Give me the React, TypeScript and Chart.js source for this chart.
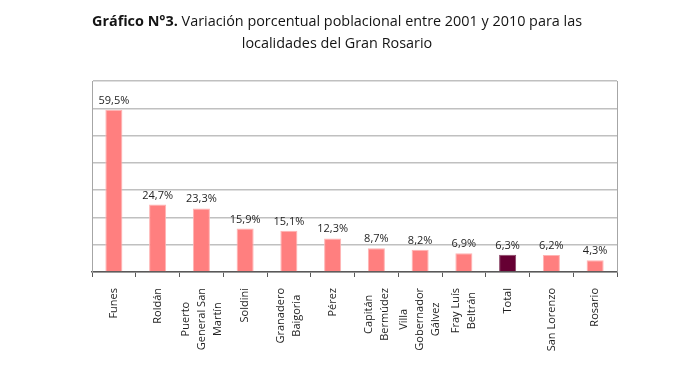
import React, { useEffect, useRef } from 'react';
import { Chart, registerables } from 'chart.js';

Chart.register(...registerables);

const categories: string[][] = [
  ['Funes'],
  ['Roldán'],
  ['Puerto', 'General San', 'Martín'],
  ['Soldini'],
  ['Granadero', 'Baigoria'],
  ['Pérez'],
  ['Capitán', 'Bermúdez'],
  ['Villa', 'Gobernador', 'Gálvez'],
  ['Fray Luís', 'Beltrán'],
  ['Total'],
  ['San Lorenzo'],
  ['Rosario'],
];
const values: number[] = [59.5, 24.7, 23.3, 15.9, 15.1, 12.3, 8.7, 8.2, 6.9, 6.3, 6.2, 4.3];
const highlightCategory = 'Total';
const titleBold = 'Gráfico N°3.';
const titleRest = ' Variación porcentual poblacional entre 2001 y 2010 para las';
const titleLine2 = 'localidades del Gran Rosario';
const yMin = 0;
const yMax = 70;
const yStep = 10;

const FONT = '"Open Sans", "Noto Sans", sans-serif';
const BAR = '#FF7F7F';
const BAR_HI = '#660033';

const fmt = (v: number) => v.toFixed(1).replace('.', ',') + '%';

const overlay = {
  id: 'overlay',
  afterDraw(chart: any) {
    const { ctx, chartArea, scales } = chart;
    const xs = scales.x;
    ctx.save();
    // right frame border
    ctx.strokeStyle = '#a6a6a6';
    ctx.lineWidth = 1;
    ctx.beginPath();
    ctx.moveTo(Math.round(chartArea.right) + 0.5, chartArea.top);
    ctx.lineTo(Math.round(chartArea.right) + 0.5, chartArea.bottom);
    ctx.stroke();

    // value labels
    ctx.font = `11px ${FONT}`;
    ctx.fillStyle = '#1f1f1f';
    ctx.textAlign = 'center';
    ctx.textBaseline = 'alphabetic';
    const meta = chart.getDatasetMeta(0);
    meta.data.forEach((bar: any, i: number) => {
      ctx.fillText(fmt(values[i]), bar.x, bar.y - 6);
    });

    // category labels (rotated, centred lines, block anchored near axis)
    const LH = 16;
    const topY = chartArea.bottom + 16;
    categories.forEach((lines, i) => {
      const cx = xs.getPixelForValue(i);
      const W = Math.max(...lines.map((l) => ctx.measureText(l).width));
      const yc = topY + W / 2;
      const n = lines.length;
      lines.forEach((line, j) => {
        const lx = cx + (j - (n - 1) / 2) * LH;
        ctx.save();
        ctx.translate(lx, yc);
        ctx.rotate(-Math.PI / 2);
        ctx.textAlign = 'center';
        ctx.textBaseline = 'middle';
        ctx.fillText(line, 0, 0);
        ctx.restore();
      });
    });

    // title
    ctx.fillStyle = '#141414';
    ctx.textBaseline = 'alphabetic';
    ctx.textAlign = 'left';
    const boldFont = `bold 14.4px ${FONT}`;
    const normFont = `14.4px ${FONT}`;
    ctx.font = boldFont;
    const wb = ctx.measureText(titleBold).width;
    ctx.font = normFont;
    const wr = ctx.measureText(titleRest).width;
    const w2 = ctx.measureText(titleLine2).width;
    const cw = chart.width / 2;
    const x0 = cw - (wb + wr) / 2;
    ctx.font = boldFont;
    ctx.fillText(titleBold, x0, 26);
    ctx.font = normFont;
    ctx.fillText(titleRest, x0 + wb, 26);
    ctx.fillText(titleLine2, cw - w2 / 2, 48);
    ctx.restore();
  },
};

export default function App() {
  const ref = useRef<HTMLCanvasElement>(null);
  useEffect(() => {
    document.body.style.margin = '0';
    const chart = new Chart(ref.current!, {
      type: 'bar',
      data: {
        labels: categories,
        datasets: [
          {
            data: values,
            backgroundColor: categories.map((c) => (c.join(' ') === highlightCategory ? BAR_HI : BAR)),
            borderColor: categories.map((c) => (c.join(' ') === highlightCategory ? '#8a4466' : '#FFB3B3')),
            borderWidth: 1,
            categoryPercentage: 1,
            barPercentage: 0.39,
          },
        ],
      },
      options: {
        animation: false,
        responsive: false,
        maintainAspectRatio: false,
        layout: { padding: { left: 92, right: 57, top: 81, bottom: 102 } },
        plugins: { legend: { display: false }, title: { display: false }, tooltip: { enabled: false } },
        scales: {
          x: {
            offset: true,
            grid: { display: true, drawOnChartArea: false, drawTicks: true, tickLength: 5, color: '#595959', offset: true },
            border: { display: true, color: '#595959', width: 1.5 },
            ticks: { display: false },
          },
          y: {
            min: yMin,
            max: yMax,
            ticks: { display: false, stepSize: yStep },
            grid: { color: '#c0c0c0', drawTicks: false, lineWidth: 1.5 },
            border: { display: true, color: '#a6a6a6', width: 1 },
          },
        },
      },
      plugins: [overlay],
    });
    return () => chart.destroy();
  }, []);
  return (
    <div style={{ width: 674, height: 379 }}>
      <canvas ref={ref} width={674} height={379} style={{ display: 'block' }} />
    </div>
  );
}
